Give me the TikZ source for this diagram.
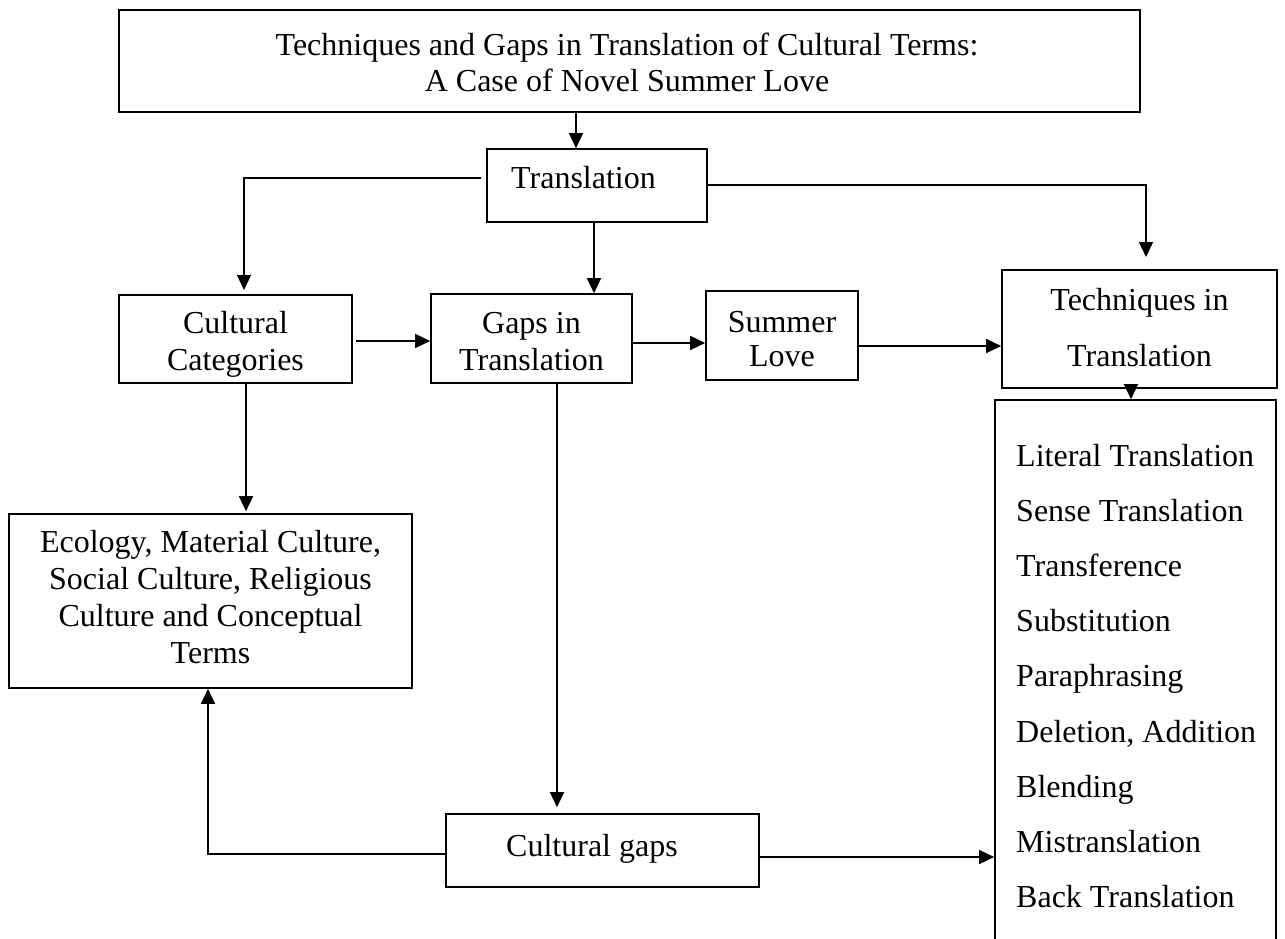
\documentclass[tikz,border=0pt]{standalone}
\usepackage{fontspec}
\setmainfont{Liberation Serif}
\usetikzlibrary{arrows.meta,calc}
\begin{document}
\begin{tikzpicture}[x=1pt,y=-1pt,
  box/.style={draw,line width=1.6pt,inner sep=0pt},
  txt/.style={inner sep=0pt,anchor=base,font=\fontsize{32}{36.8}\selectfont},
  txtl/.style={txt,anchor=base west},
  arr/.style={line width=1.4pt,-{Triangle[length=15pt,width=14pt]}},
  ln/.style={line width=1.4pt}]
\useasboundingbox (0,0) rectangle (1285,939);
\clip (0,0) rectangle (1285,939);
% boxes
\node[box,minimum width=1021pt,minimum height=102pt] (title) at (629.5,61) {};
\node[box,minimum width=220pt,minimum height=73pt] (tr) at (597,185.5) {};
\node[box,minimum width=233pt,minimum height=88pt] (cc) at (235.5,339) {};
\node[box,minimum width=201pt,minimum height=89pt] (gt) at (531.5,338.5) {};
\node[box,minimum width=152pt,minimum height=89pt] (sl) at (782,335.5) {};
\node[box,minimum width=275pt,minimum height=118pt] (tt) at (1139.5,329) {};
\node[box,minimum width=403pt,minimum height=174pt] (eco) at (210.5,601) {};
\node[box,minimum width=313pt,minimum height=73pt] (cg) at (602.5,850.5) {};
\node[box,minimum width=281pt,minimum height=600pt] (lst) at (1135.5,700) {};
% texts
\node[txt] (title1) at (627,56) {Techniques and Gaps in Translation of Cultural Terms:};
\node[txt] (title2) at (627,92) {A Case of Novel Summer Love};
\node[txtl] (trt) at (511,189) {Translation};
\node[txt] (cc1) at (235.5,333) {Cultural};
\node[txt] (cc2) at (235.5,370) {Categories};
\node[txt] (gt1) at (531.5,333) {Gaps in};
\node[txt] (gt2) at (531.5,370) {Translation};
\node[txt] (sl1) at (782,332) {Summer};
\node[txt] (sl2) at (782,366) {Love};
\node[txt] (tt1) at (1139.5,310) {Techniques in};
\node[txt] (tt2) at (1139.5,366) {Translation};
\node[txt] (eco1) at (210.5,552) {Ecology, Material Culture,};
\node[txt] (eco2) at (210.5,589) {Social Culture, Religious};
\node[txt] (eco3) at (210.5,626) {Culture and Conceptual};
\node[txt] (eco4) at (210.5,663) {Terms};
\node[txt] (cgt) at (592,856) {Cultural gaps};
\node[txtl] (l1) at (1016,466) {Literal Translation};
\node[txtl] (l2) at (1016,521.2) {Sense Translation};
\node[txtl] (l3) at (1016,576.4) {Transference};
\node[txtl] (l4) at (1016,631.6) {Substitution};
\node[txtl] (l5) at (1016,686.8) {Paraphrasing};
\node[txtl] (l6) at (1016,742) {Deletion, Addition};
\node[txtl] (l7) at (1016,797.2) {Blending};
\node[txtl] (l8) at (1016,852.4) {Mistranslation};
\node[txtl] (l9) at (1016,907.6) {Back Translation};
% connectors
\coordinate (xa) at (576,0);
\draw[arr] (title.south -| xa) -- (tr.north -| xa);
\coordinate (ya) at (0,178);
\coordinate (ca) at (244,290);
\draw[arr] ($(tr.west |- ya)+(-5,0)$) -| (ca);
\coordinate (yb) at (0,185);
\coordinate (cb) at (1146,257);
\draw[arr] (tr.east |- yb) -| (cb);
\coordinate (xc) at (594,0);
\draw[arr] (tr.south -| xc) -- (gt.north -| xc);
\coordinate (yd) at (0,341);
\draw[arr] ($(cc.east |- yd)+(3,0)$) -- (gt.west |- yd);
\coordinate (ye) at (0,343);
\draw[arr] (gt.east |- ye) -- (sl.west |- ye);
\coordinate (yf) at (0,346);
\draw[arr] (sl.east |- yf) -- (tt.west |- yf);
\coordinate (xg) at (1131,0);
\draw[arr] (tt.south -| xg) -- (lst.north -| xg);
\coordinate (xh) at (246,0);
\draw[arr] (cc.south -| xh) -- ($(eco.north -| xh)+(0,-2)$);
\coordinate (xi) at (557,0);
\draw[arr] (gt.south -| xi) -- ($(cg.north -| xi)+(0,-6)$);
\coordinate (yj) at (0,854);
\coordinate (xj) at (208,0);
\draw[arr] (cg.west |- yj) -| (eco.south -| xj);
\coordinate (yk) at (0,857);
\draw[arr] (cg.east |- yk) -- (lst.west |- yk);
\end{tikzpicture}
\end{document}
